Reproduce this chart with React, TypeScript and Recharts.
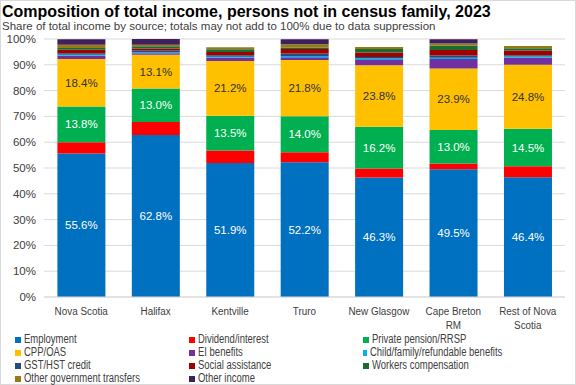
import React from "react";
import {
  BarChart,
  Bar,
  XAxis,
  YAxis,
  CartesianGrid,
  LabelList,
} from "recharts";

const regions = [
  "Nova Scotia",
  "Halifax",
  "Kentville",
  "Truro",
  "New Glasgow",
  "Cape Breton RM",
  "Rest of Nova Scotia",
];

// shares in % (bottom to top of each stack)
const employment = [55.6, 62.8, 51.9, 52.2, 46.3, 49.5, 46.4];
const dividend = [4.4, 5.0, 4.9, 3.9, 3.5, 2.2, 4.3];
const pension = [13.8, 13.0, 13.5, 14.0, 16.2, 13.0, 14.5];
const cppOas = [18.4, 13.1, 21.2, 21.8, 23.8, 23.9, 24.8];
const eiBenefits = [1.3, 0.6, 1.2, 1.0, 2.1, 3.6, 2.7];
const childBenefits = [0.4, 0.4, 0.4, 0.5, 0.5, 0.5, 0.5];
const gstCredit = [0.6, 0.6, 0.6, 1.0, 0.6, 0.9, 0.5];
const socialAssist = [1.3, 0.8, 1.3, 1.7, 1.8, 2.1, 1.8];
const workersComp = [0.7, 0.9, 1.0, 0.6, 1.3, 1.8, 0.9];
const otherGov = [1.3, 0.6, 0.8, 1.3, 0.8, 0.8, 0.9];
const otherIncome = [2.1, 2.2, 0, 1.9, 0, 1.6, 0];

const yTicks = [0, 10, 20, 30, 40, 50, 60, 70, 80, 90, 100];

const series = [
  { key: "employment", name: "Employment", color: "#0070C0", values: employment },
  { key: "dividend", name: "Dividend/interest", color: "#FF0000", values: dividend },
  { key: "pension", name: "Private pension/RRSP", color: "#00B050", values: pension },
  { key: "cpp", name: "CPP/OAS", color: "#FFC000", values: cppOas },
  { key: "ei", name: "EI benefits", color: "#7030A0", values: eiBenefits },
  { key: "child", name: "Child/family/refundable benefits", color: "#00B0F0", values: childBenefits },
  { key: "gst", name: "GST/HST credit", color: "#1F4E79", values: gstCredit },
  { key: "social", name: "Social assistance", color: "#A00000", values: socialAssist },
  { key: "workers", name: "Workers compensation", color: "#1E6B32", values: workersComp },
  { key: "othergov", name: "Other government transfers", color: "#977A14", values: otherGov },
  { key: "other", name: "Other income", color: "#3F1F5C", values: otherIncome },
];

const labelled: Record<string, string> = {
  employment: "#ffffff",
  pension: "#ffffff",
  cpp: "#333333",
};

const data = regions.map((region, i) => {
  const row: any = { region };
  series.forEach((s) => (row[s.key] = s.values[i]));
  return row;
});

const FONT = "'Liberation Sans', Arial, sans-serif";

// wrap category names the way excel does in a narrow slot
function wrap(text: string, maxChars: number) {
  const lines: string[] = [];
  let cur = "";
  text.split(" ").forEach((w) => {
    if (cur && (cur + " " + w).length > maxChars) {
      lines.push(cur);
      cur = w;
    } else {
      cur = cur ? cur + " " + w : w;
    }
  });
  if (cur) lines.push(cur);
  return lines;
}

const CategoryTick = (props: any) => {
  const { x, y, payload } = props;
  const lines = wrap(payload.value, 12);
  return (
    <g transform={`translate(${x},${y}) scale(0.86,1)`}>
      {lines.map((l, i) => (
        <text
          key={i}
          x={0}
          y={12 + i * 14.4}
          textAnchor="middle"
          fill="#404040"
          fontSize={11.5}
          fontFamily={FONT}
        >
          {l}
        </text>
      ))}
    </g>
  );
};

export default function App() {
  return (
    <div
      style={{
        position: "absolute",
        left: 0,
        top: 0,
        width: 574,
        height: 383,
        border: "1px solid #d9d9d9",
        background: "#fff",
        fontFamily: FONT,
      }}
    >
      <div
        style={{
          position: "absolute",
          left: 1,
          top: 2,
          fontSize: 16,
          fontWeight: "bold",
          color: "#000",
          whiteSpace: "nowrap",
        }}
      >
        Composition of total income, persons not in census family, 2023
      </div>
      <div
        style={{
          position: "absolute",
          left: 1,
          top: 19,
          fontSize: 11.5,
          color: "#404040",
          whiteSpace: "nowrap",
        }}
      >
        Share of total income by source; totals may not add to 100% due to data suppression
      </div>
      <BarChart
        width={576}
        height={385}
        data={data}
        margin={{ top: 39, right: 11, left: 8, bottom: 58 }}
        barCategoryGap="18%"
        style={{ position: "absolute", left: -1, top: -1 }}
      >
        <CartesianGrid vertical={false} stroke="#d9d9d9" />
        <XAxis
          dataKey="region"
          height={30}
          interval={0}
          tick={<CategoryTick />}
          tickLine={false}
          axisLine={{ stroke: "#d9d9d9" }}
          tickMargin={0}
        />
        <YAxis
          width={36}
          domain={[0, 100]}
          ticks={yTicks}
          tickFormatter={(v) => `${v}%`}
          tick={{ fontSize: 11.5, fill: "#404040", fontFamily: FONT }}
          tickLine={false}
          axisLine={false}
          interval={0}
        />
        {series.map((s) => (
          <Bar
            key={s.key}
            dataKey={s.key}
            name={s.name}
            stackId="a"
            fill={s.color}
            isAnimationActive={false}
          >
            {labelled[s.key] && (
              <LabelList
                dataKey={s.key}
                position="center"
                formatter={(v: any) => `${Number(v).toFixed(1)}%`}
                fill={labelled[s.key]}
                fontSize={11.5}
                fontFamily={FONT}
              />
            )}
          </Bar>
        ))}
      </BarChart>
      <div
        style={{
          position: "absolute",
          left: 14,
          top: 332,
          display: "grid",
          gridTemplateColumns: "174px 174px 174px",
          fontFamily: FONT,
          fontSize: 12,
          color: "#404040",
          lineHeight: "13px",
        }}
      >
        {series.map((s) => (
          <div key={s.key} style={{ display: "flex", alignItems: "center", whiteSpace: "nowrap" }}>
            <span
              style={{
                display: "inline-block",
                width: 6,
                height: 6,
                background: s.color,
                marginRight: 3,
              }}
            />
            <span style={{ display: "inline-block", transform: "scaleX(0.79)", transformOrigin: "left center" }}>
              {s.name}
            </span>
          </div>
        ))}
      </div>
    </div>
  );
}
